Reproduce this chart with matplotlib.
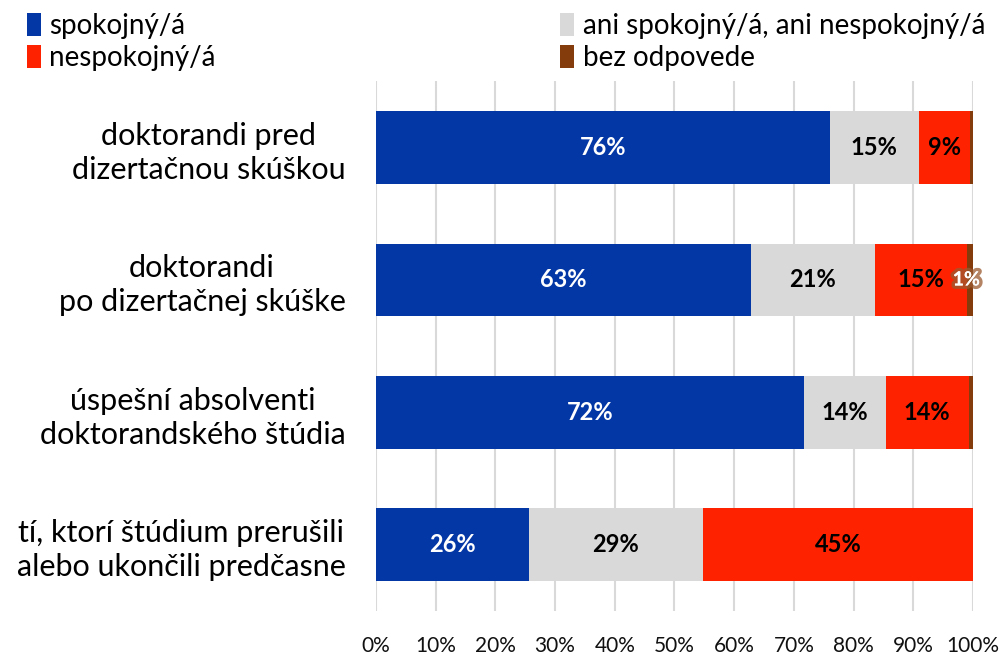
import numpy as np
import matplotlib.pyplot as plt
import matplotlib.patheffects as pe

plt.rcParams['font.family'] = ['Lato', 'DejaVu Sans']

categories = ['doktorandi pred\ndizertačnou skúškou',
              'doktorandi\npo dizertačnej skúške',
              'úspešní absolventi\ndoktorandského štúdia',
              'tí, ktorí štúdium prerušili\nalebo ukončili predčasne']
series = ['spokojný/á', 'ani spokojný/á, ani nespokojný/á', 'nespokojný/á', 'bez odpovede']
spokojny = [76.0, 62.8, 71.7, 25.6]
ani = [15.0, 20.8, 13.7, 29.2]
nespokojny = [8.6, 15.4, 13.9, 45.2]
bez = [0.4, 1.0, 0.7, 0.0]
colors = ['#0437A6', '#D9D9D9', '#FF2200', '#843C0C']
text_colors = ['white', 'black', 'black', 'white']

fig = plt.figure(figsize=(10.04, 6.55), dpi=100)
ax = fig.add_axes([0.3745, 0.067, 0.5945, 0.809])

y = np.arange(len(categories))
left = np.zeros(len(categories))
handles = []
for k, vals in enumerate([spokojny, ani, nespokojny, bez]):
    vals = np.array(vals)
    h = ax.barh(y, vals, left=left, height=0.55, color=colors[k], zorder=2)
    handles.append(h)
    for i, v in enumerate(vals):
        if v >= 0.95:
            cx = left[i] + v / 2
            t = ax.text(cx, y[i], '%d%%' % round(v), ha='center', va='center',
                        color=text_colors[k], fontsize=17, fontweight='bold', zorder=3)
            if k == 3:
                # small label with soft brown glow
                t.set_fontsize(14)
                t.set_x(cx - 0.6)
                t.set_path_effects([pe.withStroke(linewidth=5, foreground='#9A5A30', alpha=0.75),
                                    pe.Normal()])
    left += vals

ax.set_xlim(0, 100)
ax.set_ylim(3.5, -0.5)
ax.set_xticks(np.arange(0, 101, 10))
ax.set_xticklabels(['%d%%' % v for v in range(0, 101, 10)], fontsize=15, color='#111111')
ax.set_yticks(y)
ax.set_yticklabels(categories, fontsize=22, multialignment='center', linespacing=1.25)
ax.tick_params(axis='both', length=0)
ax.tick_params(axis='y', pad=22)
ax.tick_params(axis='x', pad=18)
ax.grid(axis='x', color='#D9D9D9', linewidth=1.5, zorder=0)
for s in ax.spines.values():
    s.set_visible(False)

leg_kw = dict(loc='upper left', frameon=False, fontsize=20, handlelength=0.5,
              handleheight=0.9, handletextpad=0.3, labelspacing=0.2, borderaxespad=0)
fig.legend([handles[0], handles[2]], [series[0], series[2]],
           bbox_to_anchor=(0.016, 0.997), **leg_kw)
fig.legend([handles[1], handles[3]], [series[1], series[3]],
           bbox_to_anchor=(0.547, 0.997), **leg_kw)

fig.savefig('out.png', dpi=100)
